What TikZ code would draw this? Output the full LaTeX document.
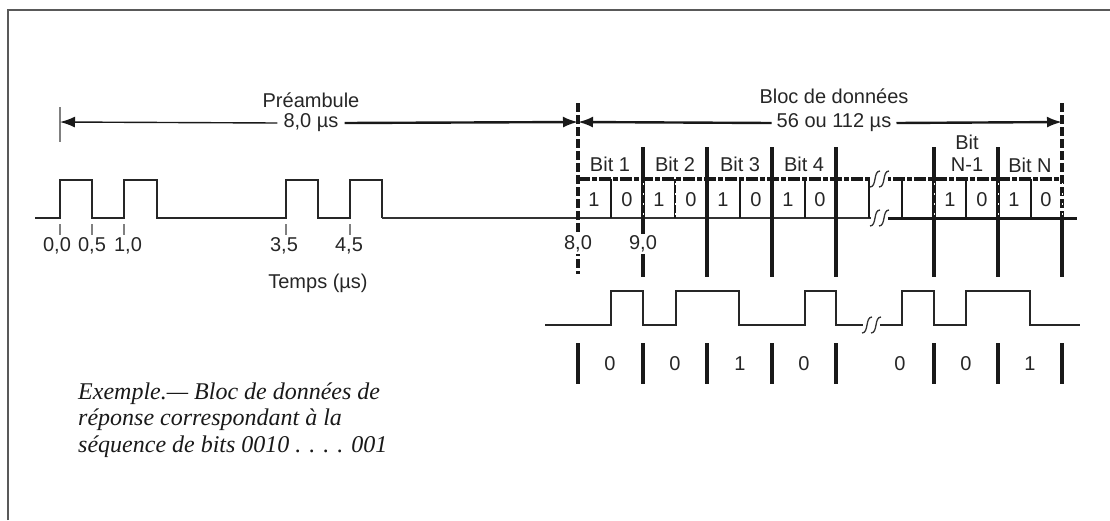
\documentclass[tikz,border=0pt]{standalone}
\usepackage{fontspec}
\setmainfont{Liberation Sans}
\newfontfamily\capfont{Liberation Serif}
\usetikzlibrary{arrows.meta}
\begin{document}
\begin{tikzpicture}[x=1pt,y=-1pt,
  lbl/.style={font=\fontsize{20}{22}\selectfont, inner sep=0pt, text=black!85},
  wlbl/.style={lbl, fill=white, inner sep=2pt},
  captxt/.style={font=\capfont\itshape\fontsize{24}{26}\selectfont, inner sep=0pt, anchor=base west, text=black!90},
  sig/.style={line width=2pt, draw=black!85, line join=miter},
  baseln/.style={line width=1.6pt, draw=black!80},
  tickm/.style={line width=1.3pt, draw=black!50},
  bnd/.style={line width=3.5pt, draw=black!90},
  halfl/.style={line width=2pt, draw=black!90},
  barl/.style={line width=4pt, draw=black!90},
  dashv/.style={line width=3.5pt, draw=black!90, dash pattern=on 9pt off 3pt},
  dimarr/.style={line width=2.4pt, draw=black!90, -{Latex[length=15pt,width=11pt]}},
  thinarr/.style={dimarr, line width=1.4pt},
  brk/.pic={\fill[white] (-7,-9) rectangle (10,9);
            \draw[line width=1.3pt, black!80] (-8,8) .. controls (-1,8) and (-5,-8) .. (2,-8);
            \draw[line width=1.3pt, black!80] (1,8) .. controls (8,8) and (4,-8) .. (11,-8);}
]
\useasboundingbox (0,0) rectangle (1110,520);
% frame
\draw[line width=2pt, black!65] (8,520) -- (8,10) -- (1110,10);

% ---------- preamble ----------
\draw[sig] (35,218) -- (60,218) -- (60,180) -- (92,180) -- (92,218) -- (124,218) -- (124,180)
  -- (157,180) -- (157,218) -- (286,218) -- (286,180) -- (318,180) -- (318,218) -- (350,218)
  -- (350,180) -- (382,180) -- (382,218);
\draw[baseln] (382,218) -- (872,218);
\foreach \x in {60,92,124,286,350} \draw[tickm] (\x,224) -- (\x,235);
\node[lbl] (t00) at (57,246) {0,0};
\node[lbl] (t05) at (92,246) {0,5};
\node[lbl] (t10) at (128,246) {1,0};
\node[lbl] (t35) at (284,246) {3,5};
\node[lbl] (t45) at (349,246) {4,5};
\node[lbl] (temps) at (318,283) {Temps (µs)};

\draw[line width=2pt, black!50] (60,107) -- (60,142);
\coordinate (pl) at (60,122);
\coordinate (pr) at (578,122);
\coordinate (dr) at (1062,122);
\node[lbl] (pre) at (311,100) {Préambule};
\node[lbl, inner xsep=6pt] (pdur) at (311,123) {8,0 µs};
\draw[thinarr] (pdur.west) -- (pl);
\draw[dimarr] (pdur.east) -- (pr);

% ---------- data block ----------
\node[lbl] (bloc) at (834,96) {Bloc de données};
\node[lbl, inner xsep=5pt] (ddur) at (834,123) {56 ou 112 µs};
\draw[dimarr] (ddur.west) -- (pr);
\draw[dimarr] (ddur.east) -- (dr);

\draw[dashv] (578,103) -- (578,274);
\draw[dashv] (1062,103) -- (1062,214);
\draw[bnd] (1062,214) -- (1062,277);
\foreach \x in {643,707,772,836,934,998} \draw[bnd] (\x,147) -- (\x,277);
\draw[line width=3.2pt, black!90, dash pattern=on 12pt off 2pt on 5pt off 2pt] (578,179) -- (1062,179);
\draw[line width=3pt, black!90] (886,218) -- (1077,218);
\foreach \x in {611,675,740,805,869,902,966,1031} \draw[halfl] (\x,179) -- (\x,218);
\foreach \x in {643,675,934,998,1062} \draw[white, line width=1pt, dash pattern=on 2pt off 8pt] (\x,183) -- (\x,216);
\pic at (878,179) {brk};
\pic at (878,218) {brk};

\node[wlbl] (l80) at (578,244) {8,0};
\node[wlbl] (l90) at (643,244) {9,0};

\node[lbl] (b1) at (610,164) {Bit 1};
\node[lbl] (b2) at (675,164) {Bit 2};
\node[lbl] (b3) at (740,164) {Bit 3};
\node[lbl] (b4) at (804,164) {Bit 4};
\node[lbl] (bn1a) at (967,142) {Bit};
\node[lbl] (bn1b) at (967,165) {N-1};
\node[lbl] (bn) at (1030,165) {Bit N};

\foreach \x/\v in {594/1,627/0,659/1,691/0,723/1,756/0,788/1,820/0,950/1,982/0,1014/1,1046/0}
  \node[lbl] at (\x,200) {\v};

% ---------- lower signal ----------
\draw[sig] (545,325) -- (611,325) -- (611,291) -- (643,291) -- (643,325) -- (676,325) -- (676,291)
  -- (739,291) -- (739,325) -- (805,325) -- (805,291) -- (836,291) -- (836,325) -- (902,325)
  -- (902,291) -- (934,291) -- (934,325) -- (966,325) -- (966,291) -- (1030,291) -- (1030,325) -- (1080,325);
\pic at (870,325) {brk};

\foreach \x in {578,643,707,772,836,934,998,1062} \draw[barl] (\x,343) -- (\x,384);
\foreach \x/\v in {610/0,675/0,740/1,804/0,900/0,966/0,1030/1}
  \node[lbl] at (\x,364) {\v};

% ---------- caption ----------
\node[captxt] (c1) at (78,399) {Exemple.— Bloc de données de};
\node[captxt] (c2) at (78,425.5) {réponse correspondant à la};
\node[captxt] (c3) at (78,452) {séquence de bits 0010 . . . . 001};
\end{tikzpicture}
\end{document}
